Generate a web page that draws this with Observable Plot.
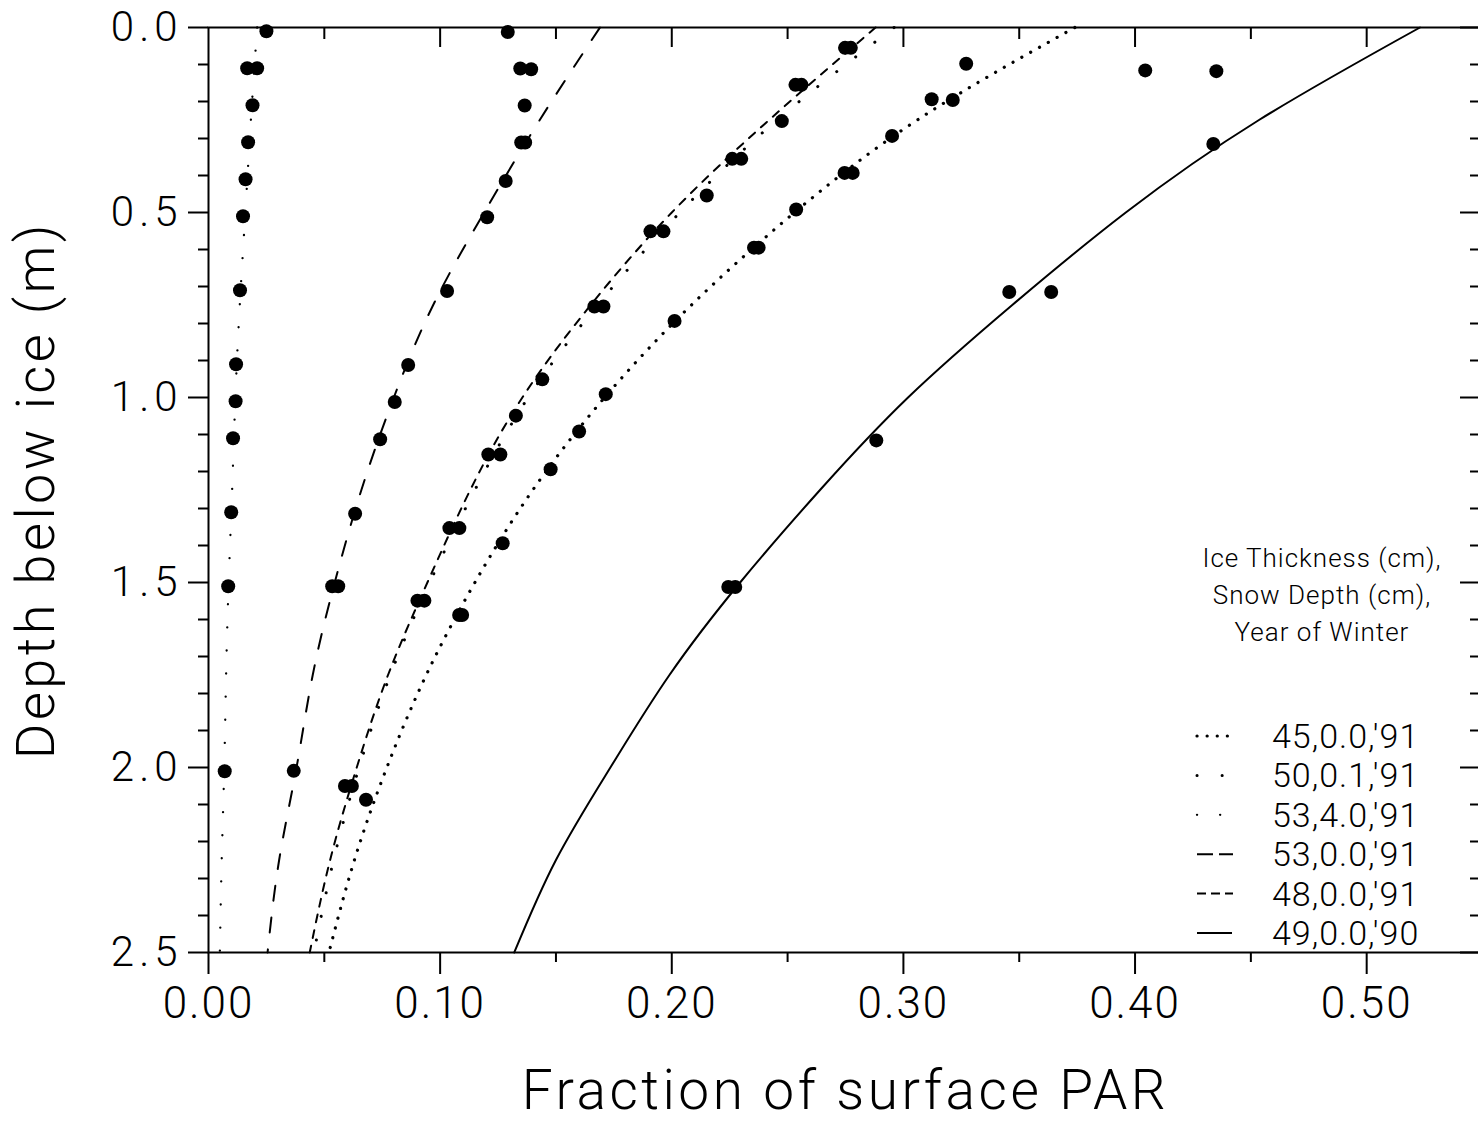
<!DOCTYPE html>
<html>
<head>
<meta charset="utf-8">
<script src="https://cdn.jsdelivr.net/npm/d3@7"></script>
<script src="https://cdn.jsdelivr.net/npm/@observablehq/plot@0.6"></script>
<style>
html, body { margin: 0; padding: 0; background: #fff; overflow: hidden; }
#chart { position: relative; width: 1478px; height: 1123px; overflow: hidden; }
#chart svg { max-width: none !important; display: block; }
#chart svg text { font-weight: 300; }
</style>
</head>
<body>
<div id="chart"></div>
<script>
// ---------- data ----------
// Legend entries: Ice Thickness (cm), Snow Depth (cm), Year of Winter
const series = ["45,0.0,'91", "50,0.1,'91", "53,4.0,'91", "53,0.0,'91", "48,0.0,'91", "49,0.0,'90"];
const legendTitle = ["Ice Thickness (cm),", "Snow Depth (cm),", "Year of Winter"];

// fitted curves: [depth (m), fraction of surface PAR]
const curve45 = [[0,0.374],[0.25,0.306],[0.5,0.253],[0.75,0.2085],[1.0,0.171],[1.25,0.140],[1.5,0.115],[1.75,0.094],[2.0,0.077],[2.25,0.063],[2.5,0.052]];
const curve50 = [[0,0.296],[0.25,0.2455],[0.5,0.2035],[0.75,0.168],[1.0,0.138],[1.25,0.115],[1.5,0.0955],[1.75,0.0785],[2.0,0.065],[2.25,0.054],[2.5,0.0455]];
const curve53s = [[0,0.021],[0.25,0.0183],[0.5,0.0159],[0.75,0.0135],[1.0,0.0116],[1.25,0.0102],[1.5,0.0087],[1.75,0.0076],[2.0,0.0068],[2.25,0.0057],[2.5,0.0049]];
const curve53 = [[0,0.169],[0.25,0.143],[0.5,0.119],[0.75,0.097],[1.0,0.080],[1.25,0.066],[1.5,0.0545],[1.75,0.045],[2.0,0.038],[2.25,0.0305],[2.5,0.0255]];
const curve48 = [[0,0.288],[0.25,0.242],[0.5,0.200],[0.75,0.165],[1.0,0.1355],[1.25,0.113],[1.5,0.0945],[1.75,0.0775],[2.0,0.064],[2.25,0.0525],[2.5,0.0437]];
const curve49 = [[0,0.523],[0.25,0.4535],[0.5,0.396],[0.75,0.347],[1.0,0.302],[1.25,0.264],[1.5,0.2295],[1.75,0.199],[2.0,0.1735],[2.25,0.150],[2.5,0.132]];

// measured points: [fraction of surface PAR, depth (m)]
const pts45 = [[0.3271,0.098],[0.3122,0.194],[0.3213,0.196],[0.2951,0.293],[0.2746,0.393],[0.2781,0.393],[0.2537,0.492],[0.2355,0.595],[0.2375,0.595],[0.2012,0.793],[0.1715,0.991],[0.1600,1.092],[0.1477,1.194],[0.1270,1.394],[0.1082,1.588],[0.1095,1.588],[0.0680,2.087]];
const pts50 = [[0.2475,0.253],[0.2151,0.454],[0.1441,0.951],[0.1327,1.049]];
const pts53s = [[0.0250,0.010],[0.0167,0.110],[0.0210,0.110],[0.0190,0.210],[0.0171,0.310],[0.0160,0.410],[0.0149,0.510],[0.0136,0.710],[0.0119,0.910],[0.0117,1.010],[0.0106,1.110],[0.0098,1.310],[0.0085,1.510],[0.0070,2.010]];
const pts53 = [[0.1292,0.012],[0.1346,0.111],[0.1393,0.113],[0.1365,0.211],[0.1350,0.311],[0.1367,0.311],[0.1283,0.415],[0.1203,0.513],[0.1030,0.712],[0.0862,0.912],[0.0804,1.012],[0.0741,1.113],[0.0633,1.314],[0.0534,1.510],[0.0560,1.510],[0.0368,2.009]];
const pts48 = [[0.2748,0.055],[0.2773,0.055],[0.2534,0.155],[0.2560,0.155],[0.2261,0.355],[0.2300,0.355],[0.1908,0.551],[0.1964,0.551],[0.1666,0.754],[0.1705,0.754],[0.1208,1.154],[0.1260,1.154],[0.1040,1.353],[0.1083,1.353],[0.0902,1.549],[0.0932,1.549],[0.0589,2.050],[0.0619,2.050]];
const pts49 = [[0.4044,0.116],[0.4351,0.118],[0.4338,0.315],[0.3457,0.715],[0.3638,0.715],[0.2883,1.116],[0.2244,1.512],[0.2274,1.512]];

// axis ticks
const xMajor = [0, 0.1, 0.2, 0.3, 0.4, 0.5];
const xMinor = [0.05, 0.15, 0.25, 0.35, 0.45];
const yMajor = [0, 0.5, 1.0, 1.5, 2.0, 2.5];
const yMinor = [0.1,0.2,0.3,0.4,0.6,0.7,0.8,0.9,1.1,1.2,1.3,1.4,1.6,1.7,1.8,1.9,2.1,2.2,2.3,2.4];

// ---------- styles ----------
const FONT = "Roboto, 'Open Sans', Lato, 'DejaVu Sans', sans-serif";
const lineStyles = [
  {strokeWidth: 3.2, strokeDasharray: "0.1,10", strokeLinecap: "round"},   // 45 bold dotted
  {strokeWidth: 3.0, strokeDasharray: "0.1,24", strokeLinecap: "round"},   // 50 sparse dots
  {strokeWidth: 2.3, strokeDasharray: "0.1,23", strokeLinecap: "round"},   // 53,4.0 fine dots
  {strokeWidth: 2.0, strokeDasharray: "15,17"},                            // 53,0.0 long dash
  {strokeWidth: 2.0, strokeDasharray: "8,8"},                              // 48 short dash
  {strokeWidth: 2.0}                                                       // 49 solid
];
const legendStyles = [
  {w: 3.2, dash: "0.1,10", cap: "round", x2: 1231},
  {w: 3.0, dash: "0.1,25", cap: "round", x2: 1223},
  {w: 2.3, dash: "0.1,23", cap: "round", x2: 1221},
  {w: 2.0, dash: "16,6", cap: "butt", x2: 1233},
  {w: 2.0, dash: "9,5", cap: "butt", x2: 1233},
  {w: 2.0, dash: null, cap: "butt", x2: 1232}
];
const curves = [curve45, curve50, curve53s, curve53, curve48, curve49];
const ptsAll = [pts45, pts50, pts53s, pts53, pts48, pts49];
const points = ptsAll.flatMap((arr, i) => arr.map(([x, depth]) => ({x, depth, series: series[i]})));

const W = 1484, H = 1123, mL = 208, mR = 2, mT = 27, mB = 171;
const plotW = W - mL - mR, plotH = H - mT - mB;

const chart = Plot.plot({
  width: W, height: H,
  marginLeft: mL, marginRight: mR, marginTop: mT, marginBottom: mB,
  style: {fontFamily: FONT, background: "#fff", color: "#000", maxWidth: "none"},
  x: {domain: [0, 0.55]},
  y: {domain: [0, 2.5], reverse: true},
  marks: [
    Plot.frame({stroke: "#000", strokeWidth: 2}),
    // bottom axis (outward ticks + labels)
    Plot.axisX(xMajor, {anchor: "bottom", tickSize: 22, tickPadding: 12, strokeWidth: 2,
      tickFormat: d => d.toFixed(2), fontSize: 44, label: null}),
    Plot.tickX(xMinor, {x: d => d, insetTop: plotH, insetBottom: -10, strokeWidth: 2}),
    // top axis (inward ticks)
    Plot.tickX(xMajor.slice(1), {x: d => d, insetBottom: plotH - 20, strokeWidth: 2}),
    Plot.tickX(xMinor, {x: d => d, insetBottom: plotH - 12, strokeWidth: 2}),
    // left axis (outward ticks + labels)
    Plot.axisY(yMajor, {anchor: "left", tickSize: 20, tickPadding: 6, strokeWidth: 2,
      tickFormat: d => d.toFixed(1), fontSize: 42, label: null}),
    Plot.tickY(yMinor, {y: d => d, insetLeft: -10, insetRight: plotW, strokeWidth: 2}),
    // right axis (inward ticks)
    Plot.tickY(yMajor, {y: d => d, insetLeft: plotW - 22, strokeWidth: 2}),
    Plot.tickY(yMinor, {y: d => d, insetLeft: plotW - 12, strokeWidth: 2}),
    // fitted curves
    ...curves.map((c, i) => Plot.line(c, {x: d => d[1], y: d => d[0], curve: "natural", stroke: "#000", ...lineStyles[i]})),
    // measurements
    Plot.dot(points, {x: "x", y: "depth", r: 7, fill: "#000", stroke: null}),
    // axis titles
    Plot.text(["Fraction of surface PAR"], {frameAnchor: "bottom", textAnchor: "middle", dy: 156, fontSize: 55, text: d => d}),
    Plot.text(["Depth below ice (m)"], {frameAnchor: "left", textAnchor: "middle", dx: -172, rotate: -90, fontSize: 54, text: d => d})
  ]
});

document.getElementById("chart").appendChild(chart);

// ---------- legend (inside the plot, lower right) ----------
const svg = d3.select(chart);
svg.selectAll("[aria-label='x-axis tick label'] text").attr("letter-spacing", 2);
svg.selectAll("[aria-label='y-axis tick label'] text").attr("letter-spacing", 5);
svg.selectAll("[aria-label='text'] text").attr("letter-spacing", 3.5);

const lg = svg.append("g").attr("font-family", FONT).attr("fill", "#000");
legendTitle.forEach((t, i) => {
  lg.append("text").attr("x", 1322).attr("y", 558 + 37 * i).attr("dy", "0.35em")
    .attr("text-anchor", "middle").attr("font-size", 26).attr("letter-spacing", 1).text(t);
});
series.forEach((s, i) => {
  const y = 736 + 39.4 * i, st = legendStyles[i];
  const ln = lg.append("line").attr("x1", 1197).attr("x2", st.x2).attr("y1", y).attr("y2", y)
    .attr("stroke", "#000").attr("stroke-width", st.w).attr("stroke-linecap", st.cap);
  if (st.dash) ln.attr("stroke-dasharray", st.dash);
  lg.append("text").attr("x", 1272).attr("y", y).attr("dy", "0.35em")
    .attr("text-anchor", "start").attr("font-size", 34).attr("letter-spacing", 1).text(s);
});
</script>
</body>
</html>
